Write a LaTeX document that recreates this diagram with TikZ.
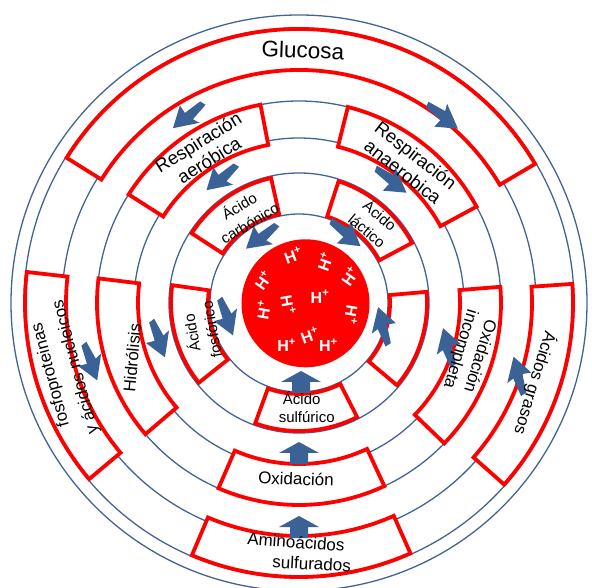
\documentclass[tikz,border=0pt]{standalone}
\usepackage{fontspec}
\setmainfont{Liberation Sans}
\definecolor{ringblue}{RGB}{66,100,148}
\definecolor{arrblue}{RGB}{58,98,150}
\definecolor{boxred}{RGB}{255,0,0}
\newcommand\ringbox[4]{\draw[redbox] (#1:#4) arc[start angle=#1, end angle=#2, radius=#4] -- (#2:#3) arc[start angle=#2, end angle=#1, radius=#3] -- cycle;}
\tikzset{
  ring/.style={draw=ringblue, line width=1.3pt},
  redbox/.style={draw=boxred, fill=white, line width=3.8pt, line join=miter},
  lbl/.style={font=\fontsize{17}{20}\selectfont, align=center, inner sep=0pt},
  lbls/.style={font=\fontsize{15}{20}\selectfont, align=center, inner sep=0pt},
  hp/.style={text=white, font=\fontsize{16}{16}\selectfont\bfseries, inner sep=0pt},
  flasharr/.pic={\fill[arrblue] (-21,3) -- (-2,6) -- (-5,13) -- (19,0) -- (-1,-13) -- (0,-4) -- (-19,-3) -- cycle;},
  uparr/.pic={\fill[arrblue] (-9,-22) -- (-9,-11) -- (-20,-11) -- (0,0) -- (20,-11) -- (9,-11) -- (9,-22) -- cycle;}
}
\begin{document}
\begin{tikzpicture}[x=1pt,y=1pt]
\useasboundingbox (0,0) rectangle (592,587);
\fill[white] (0,0) rectangle (592,587);
\clip (0,0) rectangle (592,587);
\coordinate (C) at (299,284);
\begin{scope}[shift={(C)}]
  \foreach \r in {288,275,237,202,165,130,89} \draw[ring] (0,0) circle[radius=\r];
  % outer band
  \ringbox{30.5}{148}{233}{274}
  \ringbox{173.5}{220}{233}{274}
  \ringbox{-41.5}{4}{233}{274}
  \ringbox{-113}{-66}{233}{274}
  % middle band
  \ringbox{101}{147.5}{161}{202}
  \ringbox{28.5}{76}{161}{202}
  \ringbox{173}{220.5}{161}{202}
  \ringbox{-44}{4.6}{161}{202}
  \ringbox{-113.5}{-65}{161}{202}
  % inner band
  \ringbox{102.6}{147}{91}{128}
  \ringbox{28}{72}{91}{128}
  \ringbox{172}{218.5}{91}{128}
  \ringbox{-110}{-63}{91}{128}
  \ringbox{-40}{5}{91}{128}
\end{scope}
\fill[boxred] (305.5,283.7) circle[radius=64];
% arrows
\pic[rotate=220] at (187.5,471) {flasharr};
\pic[rotate=220] at (221,409) {flasharr};
\pic[rotate=218] at (261,350) {flasharr};
\pic[rotate=-38] at (443,470) {flasharr};
\pic[rotate=-38] at (391.5,406) {flasharr};
\pic[rotate=-40] at (346,353) {flasharr};
\pic[rotate=-70] at (90.7,224.5) {flasharr};
\pic[rotate=-70] at (158.5,247.5) {flasharr};
\pic[rotate=-70] at (226.5,269.5) {flasharr};
\pic[rotate=105] at (518.5,212) {flasharr};
\pic[rotate=105] at (448,240.5) {flasharr};
\pic[rotate=105] at (383,261.5) {flasharr};
\pic at (301,216) {uparr};
\pic at (299,145) {uparr};
\pic at (299,71) {uparr};
% labels
\node[lbl, font=\fontsize{22.5}{25}\selectfont, rotate=-2] (glu) at (303,537) {Glucosa};
\node[lbl, rotate=32, font=\fontsize{18.5}{20.5}\selectfont] (aer) at (203.5,436) {Respiración\\aeróbica};
\node[lbl, rotate=-38, font=\fontsize{18.5}{21}\selectfont] (anaer) at (409.5,423.5) {Respiración\\anaerobica};
\node[lbls, rotate=31] (carb) at (244,373) {Ácido\\carbónico};
\node[lbls, rotate=-40] (lact) at (374,364.5) {Ácido\\láctico};
\node[lbls, rotate=100] (fosf) at (201,255.5) {Ácido\\fosfórico};
\node[lbls] (sulf1) at (301.7,188.7) {Ácido};
\node[lbls] (sulf2) at (306.7,169.7) {sulfúrico};
\node[lbl, rotate=85] (hidr) at (132,229) {Hidrólisis};
\node[lbl, rotate=105] (fosfo1) at (51,212) {fosfoproteinas};
\node[lbl, rotate=105] (fosfo2) at (76,220) {y ácidos nucleicos};
\node[lbl, rotate=-107] (oxi1) at (481,230.3) {Oxidación};
\node[lbl, rotate=-107] (oxi2) at (460,238) {incompleta};
\node[lbl, rotate=-107] (gras) at (535,204) {Ácidos grasos};
\node[lbl, rotate=-2] (oxid) at (296,108.3) {Oxidación};
\node[lbl, rotate=-4] (amin1) at (296,45) {Aminoácidos};
\node[lbl, rotate=-3] (amin2) at (311.7,23.3) {sulfurados};
% H+
\node[hp, rotate=20] (h1) at (293.3,332) {H\textsuperscript{+}};
\node[hp, rotate=70] (h2) at (325,325.3) {H\textsuperscript{+}};
\node[hp, rotate=55] (h3) at (350,310.3) {H\textsuperscript{+}};
\node[hp, rotate=55] (h4) at (263.3,307) {H\textsuperscript{+}};
\node[hp, rotate=-80] (h5) at (288.3,282) {H\textsuperscript{+}};
\node[hp] (h6) at (320,290.3) {H\textsuperscript{+}};
\node[hp, rotate=80] (h7) at (263.3,277) {H\textsuperscript{+}};
\node[hp, rotate=-100] (h8) at (351.7,272) {H\textsuperscript{+}};
\node[hp, rotate=20] (h9) at (310,252) {H\textsuperscript{+}};
\node[hp] (h10) at (286.7,242) {H\textsuperscript{+}};
\node[hp] (h11) at (328.3,242) {H\textsuperscript{+}};
\end{tikzpicture}
\end{document}
